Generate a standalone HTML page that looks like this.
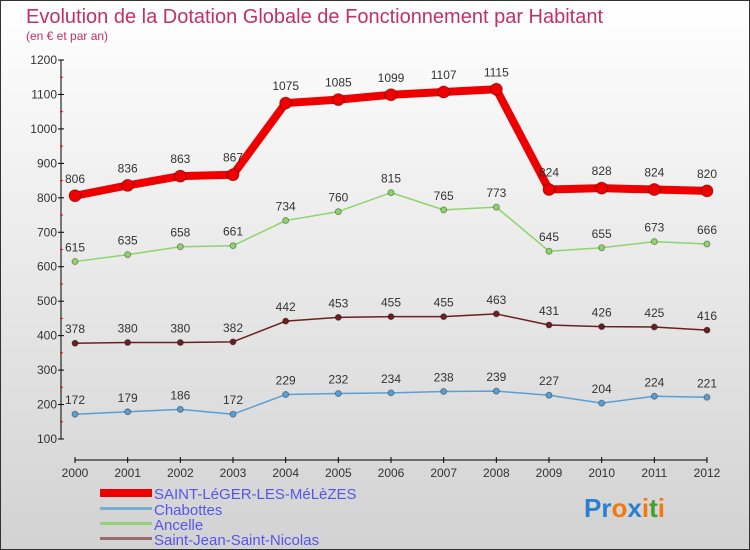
<!DOCTYPE html>
<html><head><meta charset="utf-8"><style>
body{margin:0}
#wrap{width:750px;height:550px;position:relative;box-sizing:border-box;border:1px solid #333;background:linear-gradient(#ffffff,#d2d2d2);font-family:"Liberation Sans",sans-serif;overflow:hidden}
</style></head><body>
<div id="wrap">
<svg id="chart" width="750" height="550" style="position:absolute;left:-1px;top:-1px">
<text x="26" y="23" font-size="20" fill="#c0306a">Evolution de la Dotation Globale de Fonctionnement par Habitant</text>
<text x="26" y="40" font-size="12" fill="#c0306a">(en € et par an)</text>
<g id="axes"></g><g id="series"></g>
<g>
<rect x="100" y="489" width="52" height="8" fill="#ee0000"/>
<text x="154" y="499" font-size="15" fill="#5555ee">SAINT-LéGER-LES-MéLèZES</text>
<rect x="100" y="507" width="52" height="3" fill="#7aaed0"/>
<text x="154" y="515" font-size="15" fill="#5555ee">Chabottes</text>
<rect x="100" y="522" width="52" height="3" fill="#99d17a"/>
<text x="154" y="530" font-size="15" fill="#5555ee">Ancelle</text>
<rect x="100" y="537" width="52" height="3" fill="#9a6a6a"/>
<text x="154" y="545" font-size="15" fill="#5555ee">Saint-Jean-Saint-Nicolas</text>
</g>
<text x="584" y="517" font-size="26" font-weight="bold"><tspan fill="#2a7fd0">Pr</tspan><tspan fill="#f07a10">o</tspan><tspan fill="#2a7fd0">x</tspan><tspan fill="#f07a10">i</tspan><tspan fill="#40a030">t</tspan><tspan fill="#f07a10">i</tspan></text>
</svg>
</div>
<script>
const years=[2000,2001,2002,2003,2004,2005,2006,2007,2008,2009,2010,2011,2012];
const yTicks=[100,200,300,400,500,600,700,800,900,1000,1100,1200];
const saintLeger=[806,836,863,867,1075,1085,1099,1107,1115,824,828,824,820];
const ancelle=[615,635,658,661,734,760,815,765,773,645,655,673,666];
const saintJean=[378,380,380,382,442,453,455,455,463,431,426,425,416];
const chabottes=[172,179,186,172,229,232,234,238,239,227,204,224,221];
const NS='http://www.w3.org/2000/svg';
const X=i=>75+i*(707-75)/12;
const Y=v=>439-(v-100)*(439-60)/1100;
function mk(tag,attrs,parent){const e=document.createElementNS(NS,tag);for(const k in attrs)e.setAttribute(k,attrs[k]);parent.appendChild(e);return e;}
const ax=document.getElementById('axes');
let yl=mk('line',{x1:61,y1:60,x2:61,y2:439,stroke:'#000'},ax);


let xl=mk('line',{x1:75,y1:460,x2:707,y2:460,stroke:'#000'},ax);


yTicks.forEach((t,i)=>{
  mk('line',{x1:58,y1:Y(t),x2:64,y2:Y(t),stroke:'#000'},ax);
  if(i<yTicks.length-1) mk('line',{x1:60,y1:Y(t+50),x2:63,y2:Y(t+50),stroke:'#e00'},ax);
  const tx=mk('text',{x:57,y:Y(t)+4,'font-size':12,'text-anchor':'end',fill:'#333'},ax);
  tx.textContent=t;
  
  
});
years.forEach((yr,i)=>{
  mk('line',{x1:X(i),y1:457,x2:X(i),y2:463,stroke:'#000'},ax);
  const tx=mk('text',{x:X(i),y:477,'font-size':12,'text-anchor':'middle',fill:'#333'},ax);
  tx.textContent=yr;
  
  
});
const sg=document.getElementById('series');
function drawSeries(vals,color,w,r,name){
  const g=mk('g',{},sg);
  
  
  const pl=mk('polyline',{points:vals.map((v,i)=>X(i)+','+Y(v)).join(' '),fill:'none',stroke:color,'stroke-width':w,'stroke-linejoin':'round'},g);
  
  
  vals.forEach((v,i)=>{
    const c=mk('circle',{cx:X(i),cy:Y(v),r:r,fill:color,stroke:'rgba(0,0,0,0.35)','stroke-width':1},g);
    
    
    const t=mk('text',{x:X(i),y:Y(v)-(r+7),'font-size':12,'text-anchor':'middle',fill:'#333'},g);
    t.textContent=v;
    
    
  });
}
drawSeries(chabottes,'#5a9fd4',1.5,3,'chabottes');
drawSeries(saintJean,'#6b2020',1.5,3,'saint-jean');
drawSeries(ancelle,'#8fd46a',1.5,3,'ancelle');
drawSeries(saintLeger,'#ee0000',8,6,'saint-leger');
</script>
</body></html>
